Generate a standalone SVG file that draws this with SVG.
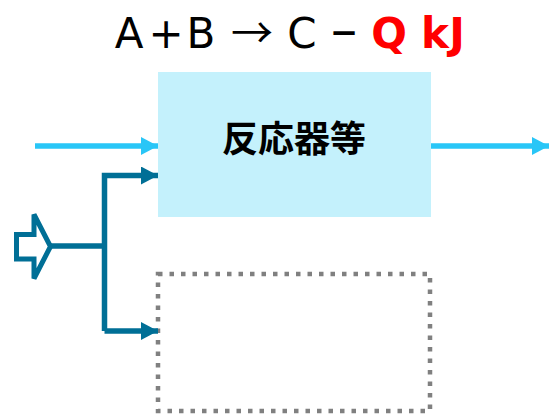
<svg xmlns="http://www.w3.org/2000/svg" width="549" height="416" viewBox="0 0 549 416">
<style>
.t{font-family:"DejaVu Sans","Liberation Sans",sans-serif;font-size:42px;text-anchor:middle;fill:#000}
.r{font-weight:bold;fill:#FF0000}
.lb{stroke:#29C6F7;stroke-width:5.5;fill:none}
.tl{stroke:#006F96;stroke-width:5.5;fill:none}
</style>
<defs>
<marker id="ahL" markerUnits="userSpaceOnUse" markerWidth="18" markerHeight="18" refX="17" refY="9" orient="auto" viewBox="0 0 18 18"><path d="M0,0 L17,9 L0,18 Z" fill="#29C6F7"/></marker>
<marker id="ahT" markerUnits="userSpaceOnUse" markerWidth="18" markerHeight="18" refX="17" refY="9" orient="auto" viewBox="0 0 18 18"><path d="M0,0 L17,9 L0,18 Z" fill="#006F96"/></marker>
</defs>
<rect width="549" height="416" fill="#fff"/>
<g id="title">
<text class="t" y="47.5"><tspan x="129">A</tspan><tspan x="166">+</tspan><tspan x="201">B</tspan><tspan x="302">C</tspan></text>
<text x="252" y="47.5" text-anchor="middle" font-family="Noto Sans CJK JP, sans-serif" font-size="42" fill="#000">→</text>
<text x="344" y="44" text-anchor="middle" font-family="DejaVu Sans, sans-serif" font-weight="bold" font-size="34" fill="#000">−</text>
<text class="t r" y="47.5"><tspan x="389">Q</tspan><tspan x="435">k</tspan><tspan x="457">J</tspan></text>
</g>
<g id="reactor">
<rect x="158" y="72" width="273" height="145" fill="#C4F1FC"/>
<text x="294" y="152" text-anchor="middle" font-family="Noto Sans CJK JP, Noto Sans CJK SC, sans-serif" font-weight="bold" font-size="36" fill="#000">反応器等</text>
</g>
<g id="dotted-box">
<rect x="158" y="274" width="272" height="137" fill="none" stroke="#808080" stroke-width="4.5" stroke-dasharray="4.5 7"/>
</g>
<g id="input-arrow">
<path d="M16.5,234.5 L34,234.5 L34,214.5 L50.5,246.5 L34,278.5 L34,259 L16.5,259 Z" fill="#fff" stroke="#006F96" stroke-width="5" stroke-linejoin="miter"/>
</g>
<g id="connectors">
<line class="lb" x1="35" y1="146" x2="158" y2="146" marker-end="url(#ahL)"/>
<line class="lb" x1="431" y1="146" x2="549" y2="146" marker-end="url(#ahL)"/>
<path class="tl" d="M51,246 H104.5"/>
<path class="tl" d="M104.5,331 V175.5 H158" marker-end="url(#ahT)"/>
<path class="tl" d="M104.5,331 H158" marker-end="url(#ahT)"/>
</g>
</svg>
